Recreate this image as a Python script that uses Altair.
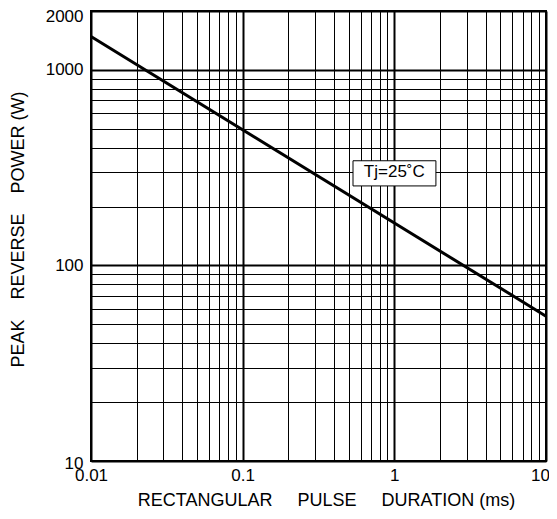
import altair as alt
import pandas as pd

# Data
pulse_ms = [0.01, 10]
power_w = [1480, 55]

x_grid = [0.01, 0.02, 0.03, 0.04, 0.05, 0.06, 0.07, 0.08, 0.09,
          0.1, 0.2, 0.3, 0.4, 0.5, 0.6, 0.7, 0.8, 0.9,
          1, 2, 3, 4, 5, 6, 7, 8, 9, 10]
x_labels = [0.01, 0.1, 1, 10]
y_grid = [10, 20, 30, 40, 50, 60, 70, 80, 90,
          100, 200, 300, 400, 500, 600, 700, 800, 900,
          1000, 2000]
y_labels = [10, 100, 1000, 2000]

note_text = ["Tj=25˚C"]
note_x = [1.0]
note_y = [300]
note_x1 = [0.534]
note_x2 = [1.88]
note_y1 = [255]
note_y2 = [343]

FONT = "Liberation Sans"
NB = "\u00a0"

line_df = pd.DataFrame({"t": pulse_ms, "p": power_w})
note_df = pd.DataFrame({"label": note_text, "x": note_x, "y": note_y,
                        "x1": note_x1, "x2": note_x2, "y1": note_y1, "y2": note_y2})

def in_list(vals):
    return " || ".join(f"datum.value == {v}" for v in vals)

x_scale = alt.Scale(type="log", domain=[0.01, 10], nice=False)
y_scale = alt.Scale(type="log", domain=[10, 2000], nice=False)

x_axis = alt.Axis(
    values=x_grid,
    labelExpr=f"({in_list(x_labels)}) ? format(datum.value, '~g') : ''",
    labelOverlap=False, labelFlush=False, labelFont=FONT, labelFontSize=17,
    labelColor="black", labelPadding=6, ticks=False, domain=False,
    labelOffset={"condition": {"test": "datum.value == 10", "value": -6}, "value": 0},
    grid=True, gridColor="black",
    gridWidth={"condition": {"test": in_list(x_labels), "value": 2}, "value": 1},
    title=f"RECTANGULAR{NB*5}PULSE{NB*5}DURATION (ms)",
    titleFont=FONT, titleFontSize=18, titleFontWeight="normal", titleColor="black",
    titlePadding=8, titleX=235,
)
y_axis = alt.Axis(
    values=y_grid,
    labelExpr=f"({in_list(y_labels)}) ? format(datum.value, '~g') : ''",
    labelOverlap=False, labelFlush=False, labelFont=FONT, labelFontSize=17,
    labelColor="black", labelPadding=8, ticks=False, domain=False,
    labelOffset={"condition": [{"test": "datum.value == 2000", "value": 5},
                               {"test": "datum.value == 10", "value": 2}], "value": 0},
    grid=True, gridColor="black",
    gridWidth={"condition": {"test": in_list(y_labels), "value": 2}, "value": 1},
    title=f"PEAK{NB*4}REVERSE{NB*4}POWER (W)",
    titleFont=FONT, titleFontSize=18, titleFontWeight="normal", titleColor="black",
    titlePadding=18, titleY=218,
)

line = alt.Chart(line_df).mark_line(color="black", strokeWidth=3, clip=True).encode(
    x=alt.X("t:Q", scale=x_scale, axis=x_axis),
    y=alt.Y("p:Q", scale=y_scale, axis=y_axis),
)

box = alt.Chart(note_df).mark_rect(fill="white", stroke="black", strokeWidth=1).encode(
    x=alt.X("x1:Q", scale=x_scale), x2="x2:Q",
    y=alt.Y("y1:Q", scale=y_scale), y2="y2:Q",
)
txt = alt.Chart(note_df).mark_text(font=FONT, fontSize=17, color="black").encode(
    x=alt.X("x:Q", scale=x_scale),
    y=alt.Y("y:Q", scale=y_scale),
    text="label:N",
)

chart = alt.layer(line, box, txt).properties(
    width=455, height=450,
    autosize=alt.AutoSizeParams(type="none"),
    padding={"left": 83, "top": 3, "right": 3, "bottom": 50},
).configure_view(stroke="black", strokeWidth=2)

chart.save("out.html", embed_options={"renderer": "svg", "actions": False})
